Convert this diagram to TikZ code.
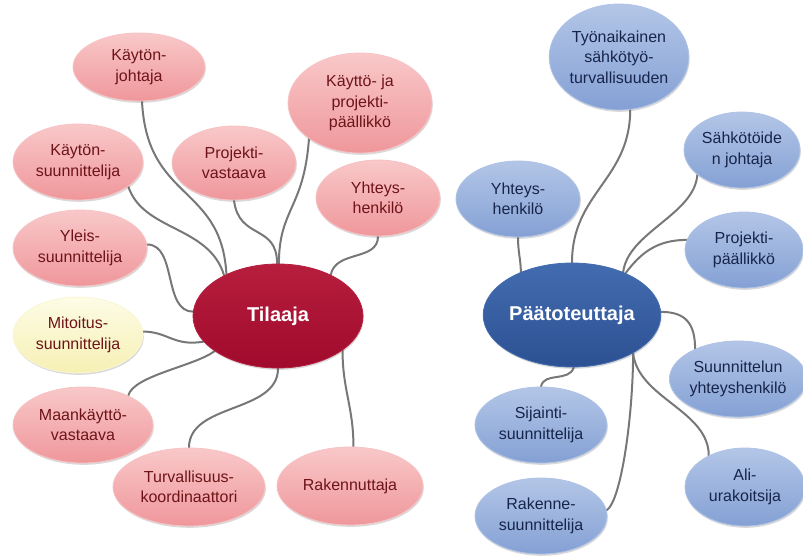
\documentclass[tikz,border=0pt]{standalone}
\usepackage{fontspec}
\setmainfont{Liberation Sans}
\usetikzlibrary{shapes.geometric,shadows}
\pgfdeclarelayer{bg}
\pgfsetlayers{bg,main}

% palette
\definecolor{pinkTop}{HTML}{F9C8C9}
\definecolor{pinkBase}{HTML}{EF979B}
\definecolor{pinkRim}{HTML}{F7C2C4}
\definecolor{pinkText}{HTML}{6E1418}
\definecolor{yelTop}{HTML}{FDFCE6}
\definecolor{yelBase}{HTML}{F6F0B4}
\definecolor{yelRim}{HTML}{FAF6D4}
\definecolor{redTop}{HTML}{B71E3E}
\definecolor{redBase}{HTML}{A00A2C}
\definecolor{bluTop}{HTML}{B3C6E7}
\definecolor{bluBase}{HTML}{84A0D4}
\definecolor{bluRim}{HTML}{AFC3E6}
\definecolor{bluText}{HTML}{18254A}
\definecolor{navyTop}{HTML}{436CB0}
\definecolor{navyBase}{HTML}{2C5193}
\definecolor{linkGray}{HTML}{777777}

\tikzset{
  bubble/.style={ellipse, inner sep=0pt, align=center,
    font=\fontsize{16}{20.5}\selectfont, line width=0.8pt,
    drop shadow={opacity=0.25, shadow xshift=0.8pt, shadow yshift=-1.8pt, fill=black!60}},
  pinkb/.style={bubble, top color=pinkTop, bottom color=pinkBase, draw=pinkRim, text=pinkText},
  yelb/.style={bubble, top color=yelTop, bottom color=yelBase, draw=yelRim, text=pinkText},
  blub/.style={bubble, top color=bluTop, bottom color=bluBase, draw=bluRim, text=bluText},
  hubred/.style={bubble, top color=redTop, bottom color=redBase, draw=redTop, text=white,
    font=\bfseries\fontsize{20}{24}\selectfont},
  hubblue/.style={bubble, top color=navyTop, bottom color=navyBase, draw=navyTop, text=white,
    font=\bfseries\fontsize{20}{24}\selectfont},
  link/.style={draw=linkGray, line width=2pt, line cap=round},
  sz/.style n args={2}{minimum width=#1pt, minimum height=#2pt}
}

\begin{document}
\begin{tikzpicture}[x=1pt, y=-1pt]
\useasboundingbox (0,0) rectangle (803,555);

% ---- Tilaaja cluster ----
\node[hubred, sz={170}{104}] (ti) at (278,316) {Tilaaja};
\node[pinkb, sz={132}{68}]  (kj) at (139,67)  {Käytön-\\johtaja};
\node[pinkb, sz={144}{100}] (kp) at (360,103) {Käyttö- ja\\projekti-\\päällikkö};
\node[pinkb, sz={130}{76}]  (ks) at (78,162)  {Käytön-\\suunnittelija};
\node[pinkb, sz={124}{74}]  (pv) at (234,163) {Projekti-\\vastaava};
\node[pinkb, sz={124}{76}]  (yh) at (378,198) {Yhteys-\\henkilö};
\node[pinkb, sz={134}{76}]  (ys) at (80,248)  {Yleis-\\suunnittelija};
\node[yelb,  sz={130}{76}]  (mi) at (78,335)  {Mitoitus-\\suunnittelija};
\node[pinkb, sz={140}{76}]  (mk) at (83,425)  {Maankäyttö-\\vastaava};
\node[pinkb, sz={152}{78}]  (tk) at (189,487) {Turvallisuus-\\koordinaattori};
\node[pinkb, sz={146}{78}]  (rk) at (350,486) {Rakennuttaja};

% ---- Päätoteuttaja cluster ----
\node[hubblue, sz={170}{104}] (pa) at (572,315) {Päätoteuttaja};
\node[blub, sz={136}{106}] (ty) at (619,57)  {Työnaikainen\\sähkötyö-\\turvallisuuden};
\node[blub, sz={116}{76}]  (sj) at (742,150) {Sähkötöide\\n johtaja};
\node[blub, sz={124}{76}]  (yb) at (518,199) {Yhteys-\\henkilö};
\node[blub, sz={118}{76}]  (pp) at (744,250) {Projekti-\\päällikkö};
\node[blub, sz={130}{76}]  (su) at (738,379) {Suunnittelun\\yhteyshenkilö};
\node[blub, sz={132}{76}]  (si) at (541,425) {Sijainti-\\suunnittelija};
\node[blub, sz={120}{78}]  (au) at (745,487) {Ali-\\urakoitsija};
\node[blub, sz={132}{76}]  (rs) at (541,516) {Rakenne-\\suunnittelija};

% ---- connectors, behind the bubbles ----
\begin{pgfonlayer}{bg}
\path[link] (kj.-85) .. controls +(5,100) and +(-5,-90) .. (ti.141);
\path[link] (ks.-26) .. controls +(15,45) and +(-15,-50) .. (ti.143);
\path[link] (pv.-90) .. controls +(5,40) and +(0,-40) .. (ti.91);
\path[link] (kp.215) .. controls +(-5,70) and +(0,-55) .. (ti.89);
\path[link] (yh.-90) .. controls +(0,25) and +(5,-25) .. (ti.38);
\path[link] (ys.3) .. controls +(30,0) and +(-30,0) .. (ti.177);
\path[link] (mi.3) .. controls +(25,0) and +(-30,5) .. (ti.199);
\path[link] (mk.33) .. controls +(5,-20) and +(-20,15) .. (ti.209);
\path[link] (tk.90) .. controls +(0,-45) and +(0,45) .. (ti.-90);
\path[link] (rk.85) .. controls +(0,-40) and +(0,40) .. (ti.-28);

\path[link] (ty.-78) .. controls +(0,70) and +(0,-70) .. (pa.90);
\path[link] (yb.-90) .. controls +(0,15) and +(0,-12) .. (pa.140);
\path[link] (sj.209) .. controls +(-3,40) and +(5,-40) .. (pa.40);
\path[link] (pp.170) .. controls +(-30,0) and +(15,-20) .. (pa.38);
\path[link] (su.145) .. controls +(0,-25) and +(25,0) .. (pa.2);
\path[link] (si.90) .. controls +(3,-15) and +(-5,15) .. (pa.-88);
\path[link] (au.139) .. controls +(0,-45) and +(5,45) .. (pa.-32);
\path[link] (rs.5) .. controls +(15,-10) and +(0,60) .. (pa.-32);
\end{pgfonlayer}
\end{tikzpicture}
\end{document}
